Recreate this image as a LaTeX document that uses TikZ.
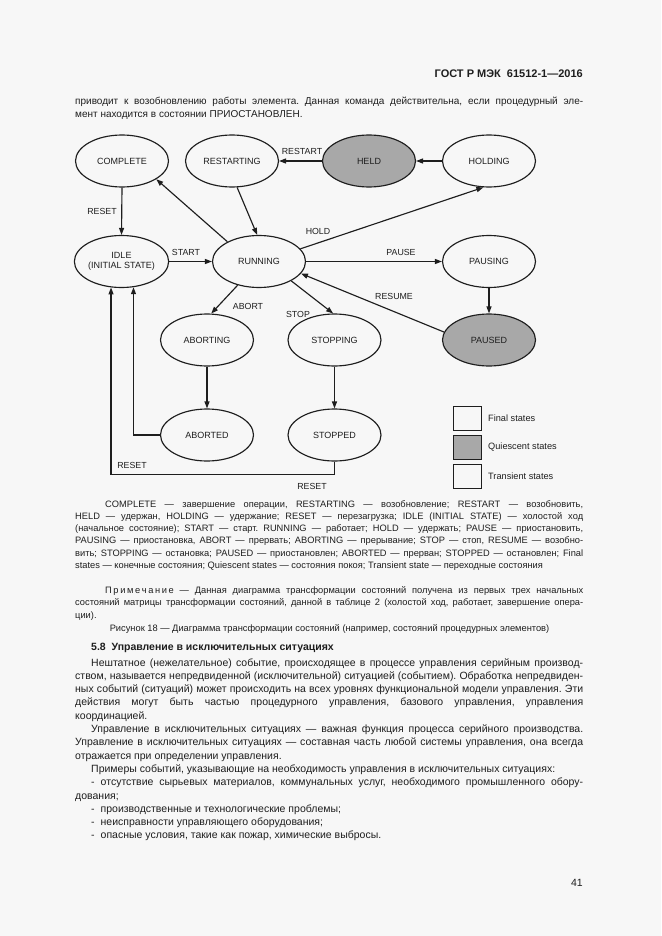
\documentclass[tikz,border=0pt]{standalone}
\usepackage{fontspec}
\setmainfont{Liberation Sans}
\usetikzlibrary{shapes.geometric,arrows.meta,calc}
\definecolor{pagebg}{RGB}{247,247,247}
\definecolor{quies}{RGB}{168,168,168}
\definecolor{ink}{RGB}{30,30,30}
\newcommand\jl[2]{\makebox[#1pt][s]{#2}}
\frenchspacing
\begin{document}
\begin{tikzpicture}[x=1pt,y=-1pt,
  st/.style={ellipse, draw=ink, line width=1.15pt, fill=pagebg, minimum width=93pt, minimum height=52pt, inner sep=0pt, font=\fontsize{9}{10.5}\selectfont, align=center, text=ink},
  qst/.style={st, fill=quies},
  conn/.style={draw=ink, line width=1.15pt, -{Triangle[length=7pt,width=5pt]}},
  lbl/.style={font=\fontsize{8.8}{10}\selectfont, text=ink, inner sep=0pt},
  leglbl/.style={font=\fontsize{9.2}{10}\selectfont, text=ink, inner sep=0pt, anchor=west},
  ln/.style={anchor=base west, inner sep=0pt, font=\fontsize{10}{12}\selectfont, text=ink},
  bd/.style={anchor=base west, inner sep=0pt, font=\fontsize{10.5}{12}\selectfont, text=ink},
  lg/.style={anchor=base west, inner sep=0pt, font=\fontsize{9.3}{11}\selectfont, text=ink},
  legbox/.style={draw=ink, line width=1pt, minimum width=28pt, minimum height=24pt, inner sep=0pt},
]
\fill[pagebg] (0,0) rectangle (661,936);
\useasboundingbox (0,0) rectangle (661,936);

% header and first lines
\node[anchor=base east, inner sep=0pt, font=\bfseries\fontsize{11}{13}\selectfont, text=ink] (hdr) at (583,78) {ГОСТ Р МЭК\ \ 61512-1—2016};
\node[ln] (t1) at (75,105) {\jl{508}{приводит к возобновлению работы элемента. Данная команда действительна, если процедурный эле-}};
\node[ln] (t2) at (75,118) {мент находится в состоянии ПРИОСТАНОВЛЕН.};

% states
\node[st] (comp) at (122,161) {COMPLETE};
\node[st] (rest) at (232,161) {RESTARTING};
\node[qst] (held) at (369,161) {HELD};
\node[st] (hold) at (489,161) {HOLDING};
\node[st] (idle) at (121.5,261.5) {IDLE\\(INITIAL STATE)};
\node[st] (run) at (259,261.5) {RUNNING};
\node[st] (paus) at (489,261.5) {PAUSING};
\node[st] (abtg) at (207,340) {ABORTING};
\node[st] (stpg) at (334.5,340) {STOPPING};
\node[qst] (pausd) at (489,340) {PAUSED};
\node[st] (abtd) at (207,435) {ABORTED};
\node[st] (stpd) at (334.5,435) {STOPPED};

% connectors
\draw[conn] (comp.south) -- (idle.north);
\draw[conn] (idle.east) -- (run.west);
\draw[conn] (run.148) -- (comp.-28);
\draw[conn] (rest.-79) -- (run.94);
\draw[conn] (held.west) -- (rest.east);
\draw[conn] (hold.west) -- (held.east);
\draw[conn] (run.17) -- (hold.-102);
\draw[conn] (run.east) -- (paus.west);
\draw[conn] (paus.south) -- (pausd.north);
\draw[conn] (pausd.170) -- (run.-16);
\draw[conn] (run.-132) -- (abtg.81);
\draw[conn] (run.-31) -- (stpg.93);
\draw[conn] (abtg.south) -- (abtd.north);
\draw[conn] (stpg.south) -- (stpd.north);
\draw[conn] (abtd.west) -| (idle.-65.5);
\coordinate (rb) at ($(stpd.south)+(0,13)$);
\draw[conn] (stpd.south) -- (rb) -| (idle.-112.5);

% connector labels
\node[lbl] (l1) at (102,211) {RESET};
\node[lbl] (l2) at (186,252) {START};
\node[lbl] (l3) at (302,151) {RESTART};
\node[lbl] (l4) at (318,231) {HOLD};
\node[lbl] (l5) at (401,252) {PAUSE};
\node[lbl] (l6) at (394,296) {RESUME};
\node[lbl] (l7) at (248,306) {ABORT};
\node[lbl] (l8) at (298,314) {STOP};
\node[lbl] (l9) at (132,465) {RESET};
\node[lbl] (l10) at (312,486) {RESET};

% legend
\node[legbox, fill=pagebg] (lb1) at (467,418) {};
\node[legbox, fill=quies] (lb2) at (467,447) {};
\node[legbox, fill=pagebg] (lb3) at (467,476) {};
\node[leglbl] (lt1) at (488,418) {Final states};
\node[leglbl] (lt2) at (488,447) {Quiescent states};
\node[leglbl] (lt3) at (488,476) {Transient states};

% legend text
\node[lg] (g1) at (105,507) {\jl{478}{COMPLETE — завершение операции, RESTARTING — возобновление; RESTART — возобновить,}};
\node[lg] (g2) at (75,519.3) {\jl{508}{HELD — удержан, HOLDING — удержание; RESET — перезагрузка; IDLE (INITIAL STATE) — холостой ход}};
\node[lg] (g3) at (75,531.6) {\jl{508}{(начальное состояние); START — старт. RUNNING — работает; HOLD — удержать; PAUSE — приостановить,}};
\node[lg] (g4) at (75,543.9) {\jl{508}{PAUSING — приостановка, ABORT — прервать; ABORTING — прерывание; STOP — стоп, RESUME — возобно-}};
\node[lg] (g5) at (75,556.2) {\jl{508}{вить; STOPPING — остановка; PAUSED — приостановлен; ABORTED — прерван; STOPPED — остановлен; Final}};
\node[lg] (g6) at (75,568.5) {states — конечные состояния; Quiescent states — состояния покоя; Transient state — переходные состояния};

\node[lg] (n1) at (105,593) {\jl{478}{П\kern1.6pt р\kern1.6pt и\kern1.6pt м\kern1.6pt е\kern1.6pt ч\kern1.6pt а\kern1.6pt н\kern1.6pt и\kern1.6pt е — Данная диаграмма трансформации состояний получена из первых трех начальных}};
\node[lg] (n2) at (75,605.5) {\jl{508}{состояний матрицы трансформации состояний, данной в таблице 2 (холостой ход, работает, завершение опера-}};
\node[lg] (n3) at (75,618) {ции).};
\node[lg, anchor=base] (cap) at (329.5,631) {Рисунок 18 — Диаграмма трансформации состояний (например, состояний процедурных элементов)};

% section
\node[bd, font=\bfseries\fontsize{10.5}{12}\selectfont] (h58) at (91,650) {5.8\ \ Управление в исключительных ситуациях};
\node[bd] (b1) at (91,666) {\jl{492}{Нештатное (нежелательное) событие, происходящее в процессе управления серийным производ-}};
\node[bd] (b2) at (75,679.3) {\jl{508}{ством, называется непредвиденной (исключительной) ситуацией (событием). Обработка непредвиден-}};
\node[bd] (b3) at (75,692.6) {\jl{508}{ных событий (ситуаций) может происходить на всех уровнях функциональной модели управления. Эти}};
\node[bd] (b4) at (75,705.9) {\jl{508}{действия могут быть частью процедурного управления, базового управления, управления}};
\node[bd] (b5) at (75,719.2) {координацией.};
\node[bd] (b6) at (91,732.5) {\jl{492}{Управление в исключительных ситуациях — важная функция процесса серийного производства.}};
\node[bd] (b7) at (75,745.8) {\jl{508}{Управление в исключительных ситуациях — составная часть любой системы управления, она всегда}};
\node[bd] (b8) at (75,759.1) {отражается при определении управления.};
\node[bd] (b9) at (91,772.4) {Примеры событий, указывающие на необходимость управления в исключительных ситуациях:};
\node[bd] (b10) at (91,785.7) {\jl{492}{-\kern6pt отсутствие сырьевых материалов, коммунальных услуг, необходимого промышленного обору-}};
\node[bd] (b11) at (75,799) {дования;};
\node[bd] (b12) at (91,812.3) {-\kern6pt производственные и технологические проблемы;};
\node[bd] (b13) at (91,825.6) {-\kern6pt неисправности управляющего оборудования;};
\node[bd] (b14) at (91,838.9) {-\kern6pt опасные условия, такие как пожар, химические выбросы.};
\node[bd, anchor=base east] (pg) at (583,886) {41};
\end{tikzpicture}
\end{document}
